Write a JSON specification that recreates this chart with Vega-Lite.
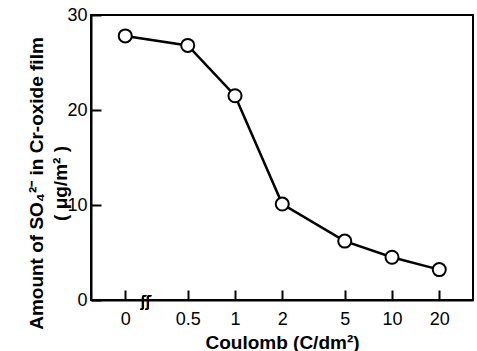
{
  "$schema": "https://vega.github.io/schema/vega-lite/v6.json",
  "width": 382,
  "height": 285,
  "autosize": {"type": "none"},
  "padding": {"left": 91, "top": 15, "right": 4, "bottom": 51},
  "background": "white",
  "config": {
    "view": {"stroke": "black", "strokeWidth": 2},
    "font": "Liberation Sans",
    "axis": {
      "grid": false,
      "domainColor": "black",
      "domainWidth": 2,
      "tickColor": "black",
      "tickWidth": 2,
      "labelColor": "black",
      "titleColor": "black",
      "labelFlush": false
    }
  },
  "data": {
    "values": [
      {"coulomb": 0, "so4": 27.8},
      {"coulomb": 0.5, "so4": 26.8},
      {"coulomb": 1, "so4": 21.5},
      {"coulomb": 2, "so4": 10.1},
      {"coulomb": 5, "so4": 6.2},
      {"coulomb": 10, "so4": 4.5},
      {"coulomb": 20, "so4": 3.2}
    ]
  },
  "transform": [
    {"calculate": "datum.coulomb == 0 ? 0.2 : datum.coulomb", "as": "xpos"}
  ],
  "encoding": {
    "x": {
      "field": "xpos",
      "type": "quantitative",
      "scale": {"type": "log", "domain": [0.121, 32.8], "nice": false},
      "axis": {
        "values": [0.2, 0.5, 1, 2, 5, 10, 20],
        "labelExpr": "datum.value < 0.3 ? '0' : format(datum.value, '~g')",
        "tickSize": -10,
        "labelPadding": 20,
        "labelFontSize": 18,
        "title": "Coulomb (C/dm²)",
        "titleFontSize": 19,
        "titleFontWeight": "bold",
        "titlePadding": 5
      }
    },
    "y": {
      "field": "so4",
      "type": "quantitative",
      "scale": {"domain": [0, 30], "nice": false},
      "axis": {
        "values": [0, 10, 20, 30],
        "tickSize": -10,
        "labelPadding": 14,
        "labelFontSize": 18,
        "title": ["Amount of SO₄²⁻ in Cr-oxide film", "( μg/m² )"],
        "titleFontSize": 19,
        "titleFontWeight": "bold",
        "titleLineHeight": 24,
        "titlePadding": -4,
        "titleY": 168
      }
    }
  },
  "layer": [
    {"mark": {"type": "line", "color": "black", "strokeWidth": 2.5}},
    {"mark": {"type": "point", "shape": "circle", "filled": true, "fill": "white", "stroke": "black", "strokeWidth": 2, "size": 170, "opacity": 1}},
    {
      "mark": {"type": "text", "text": "ʃʃ", "font": "DejaVu Sans", "fontSize": 15, "dy": 2, "color": "black"},
      "encoding": {"x": {"datum": 0.27}, "y": {"datum": 0}}
    }
  ]
}
